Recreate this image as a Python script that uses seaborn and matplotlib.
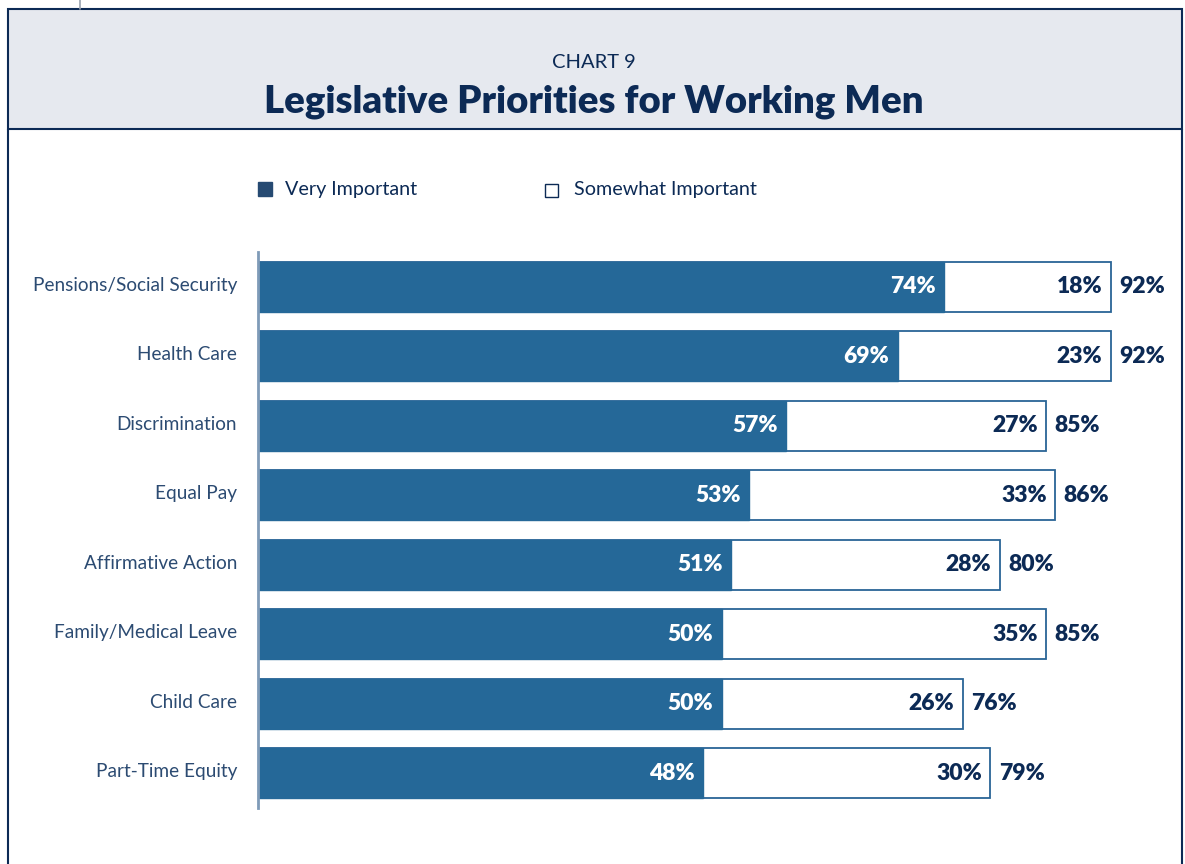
import matplotlib
matplotlib.use("Agg")
import matplotlib.pyplot as plt
import matplotlib.transforms as mtrans
import seaborn as sns
import pandas as pd
from matplotlib.patches import Rectangle
from matplotlib.lines import Line2D

categories = ["Pensions/Social Security", "Health Care", "Discrimination", "Equal Pay",
              "Affirmative Action", "Family/Medical Leave", "Child Care", "Part-Time Equity"]
very_important = [74, 69, 57, 53, 51, 50, 50, 48]
somewhat_important = [18, 23, 27, 33, 28, 35, 26, 30]
total_important = [92, 92, 85, 86, 80, 85, 76, 79]

df = pd.DataFrame({"cat": categories, "very": very_important,
                   "somewhat": somewhat_important, "total": total_important})

sns.set_theme(style="white")
FONT = ["Lato", "DejaVu Sans"]
plt.rcParams["font.family"] = FONT

NAVY = "#0c2a55"
BAR = "#256898"
EDGE = "#2a6496"
LABEL = "#2c4b72"

W, H = 1185, 864
fig = plt.figure(figsize=(W / 100, H / 100), dpi=100)
fig.patch.set_facecolor("white")

def fx(x): return x / W
def fy(y): return 1 - y / H

# header box and frame
fig.patches.append(Rectangle((fx(8), fy(129)), fx(1182) - fx(8), fy(9) - fy(129),
                             transform=fig.transFigure, facecolor="#e6e9ef",
                             edgecolor=NAVY, linewidth=1.5, zorder=0))
fig.lines.append(Line2D([fx(8), fx(8)], [fy(129), 0], transform=fig.transFigure,
                        color=NAVY, linewidth=1.5))
fig.lines.append(Line2D([fx(1182), fx(1182)], [fy(129), 0], transform=fig.transFigure,
                        color=NAVY, linewidth=1.5))
fig.lines.append(Line2D([fx(80), fx(80)], [fy(9), 1], transform=fig.transFigure,
                        color="#9aa3b0", linewidth=1.2))

fig.text(fx(594), fy(63), "CHART 9", ha="center", va="center", fontsize=14.5,
         color=NAVY, family=FONT)
fig.text(fx(594), fy(102), "Legislative Priorities for Working Men", ha="center",
         va="center", fontsize=27.5, fontweight="heavy", color=NAVY, family=FONT)

# legend
fig.patches.append(Rectangle((fx(258), fy(196)), fx(14), fy(182) - fy(196),
                             transform=fig.transFigure, facecolor="#264a72",
                             edgecolor="#264a72", linewidth=1))
fig.text(fx(285), fy(190), "Very Important", ha="left", va="center", fontsize=14.2,
         color=NAVY, family=FONT)
fig.patches.append(Rectangle((fx(545), fy(197)), fx(13), fy(184) - fy(197),
                             transform=fig.transFigure, facecolor="white",
                             edgecolor=NAVY, linewidth=1))
fig.text(fx(574), fy(190), "Somewhat Important", ha="left", va="center", fontsize=14.2,
         color=NAVY, family=FONT)

# axes
ax = fig.add_axes([fx(258), fy(808), 1 - fx(258), (808 - 252) / H])
ax.set_facecolor("none")

sns.barplot(data=df, y="cat", x="total", orient="h", color="white",
            edgecolor=EDGE, linewidth=1.3, width=0.72, ax=ax, saturation=1)
sns.barplot(data=df, y="cat", x="very", orient="h", color=BAR,
            edgecolor=BAR, linewidth=1.0, width=0.72, ax=ax, saturation=1)

ax.set_xlim(0, 100)
ax.set_ylim(7.5, -0.5)
ax.set_xlabel("")
ax.set_ylabel("")
ax.set_xticks([])
for s in ["top", "right", "bottom"]:
    ax.spines[s].set_visible(False)
ax.spines["left"].set_color("#7f9bb8")
ax.spines["left"].set_linewidth(2)
ax.tick_params(axis="y", length=0, pad=15)
shift = mtrans.ScaledTranslation(0, 3 / 100, fig.dpi_scale_trans)
for t in ax.get_yticklabels():
    t.set_fontsize(13.7)
    t.set_color(LABEL)
    t.set_family(FONT)
    t.set_transform(t.get_transform() + shift)

off = 0.9
for i, (v, s, t) in enumerate(zip(very_important, somewhat_important, total_important)):
    ax.text(v - off, i, f"{v}%", ha="right", va="center", color="white",
            fontsize=16.5, fontweight="heavy", family=FONT)
    ax.text(t - off, i, f"{s}%", ha="right", va="center", color=NAVY,
            fontsize=16.5, fontweight="heavy", family=FONT)
    ax.text(t + off, i, f"{t}%", ha="left", va="center", color=NAVY,
            fontsize=16.5, fontweight="heavy", family=FONT)

fig.savefig("out.png", dpi=100)
